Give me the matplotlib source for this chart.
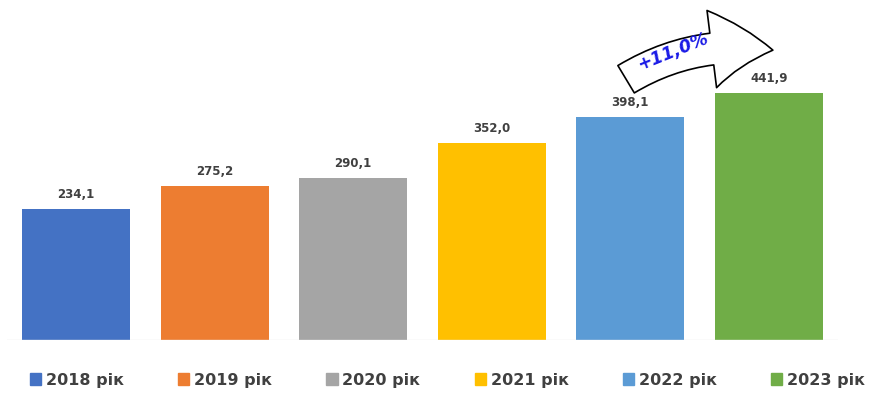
import matplotlib.pyplot as plt
from matplotlib.patches import FancyArrowPatch, Patch

# Дані
roky = ['2018 рік', '2019 рік', '2020 рік', '2021 рік', '2022 рік', '2023 рік']
znachennia = [234.1, 275.2, 290.1, 352.0, 398.1, 441.9]
kolory = ['#4472C4', '#ED7D31', '#A5A5A5', '#FFC000', '#5B9BD5', '#70AD47']
pryrist = '+11,0%'

fig = plt.figure(figsize=(8.69, 4.0), dpi=100)
ax = fig.add_axes([7 / 869, 0.15, 831 / 869, 0.85])

x = range(len(roky))
ax.bar(x, znachennia, width=0.78, color=kolory)

for i, v in enumerate(znachennia):
    ax.text(i, v + 14, f'{v:.1f}'.replace('.', ','), ha='center', va='bottom',
            fontsize=8.5, fontweight='bold', color='#404040')

ax.set_xlim(-0.5, 5.5)
ax.set_ylim(0, 607.6)
ax.axhline(0, color='#e6e6e6', lw=1)
for s in ax.spines.values():
    s.set_visible(False)
ax.set_xticks([])
ax.set_yticks([])

# стрілка приросту
arr = FancyArrowPatch((3.97, 466), (5.03, 518),
                      arrowstyle='simple,head_length=2.2,head_width=2.8,tail_width=1.15',
                      connectionstyle='arc3,rad=-0.18', mutation_scale=20,
                      shrinkA=0, shrinkB=0,
                      facecolor='white', edgecolor='black', lw=1.2, zorder=5)
ax.add_patch(arr)
ax.text(4.31, 516, pryrist, rotation=22, ha='center', va='center', fontsize=12.5,
        fontweight='bold', fontstyle='italic', color='#1a1ae6', zorder=6)

handles = [Patch(color=c) for c in kolory]
fig.legend(handles, roky, loc='center', bbox_to_anchor=(0.515, 0.05), ncol=6,
           frameon=False, handlelength=0.7, handleheight=0.7, handletextpad=0.3,
           columnspacing=3.4, prop={'weight': 'bold', 'size': 11.5},
           labelcolor='#404040')

fig.savefig('out.png', dpi=100)
